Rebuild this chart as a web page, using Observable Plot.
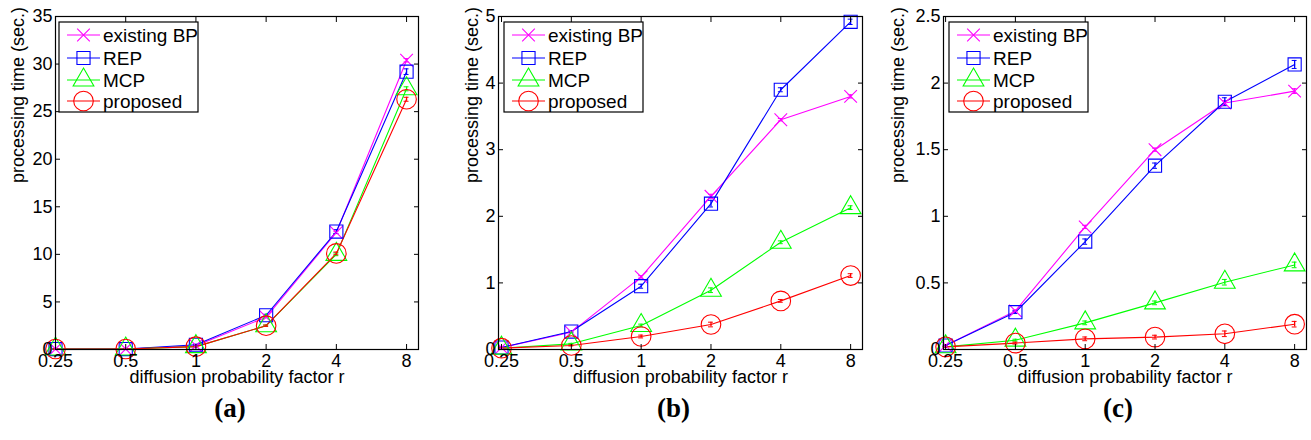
<!DOCTYPE html>
<html>
<head>
<meta charset="utf-8">
<script src="https://cdn.jsdelivr.net/npm/d3@7"></script>
<script src="https://cdn.jsdelivr.net/npm/@observablehq/plot@0.6"></script>
<style>
  html, body { margin: 0; padding: 0; background: #fff; }
  #root { position: relative; width: 1311px; height: 440px; overflow: hidden; font-family: "Liberation Sans", Arial, sans-serif; }
  .panel { position: absolute; top: 0; }
  .legend { position: absolute; }
</style>
</head>
<body>
<div id="root"></div>
<script>
// ---------------- data ----------------
const rLabels = ["0.25", "0.5", "1", "2", "4", "8"];
const seriesNames = ["existing BP", "REP", "MCP", "proposed"];
const seriesColors = ["#ff00ff", "#0000ff", "#00ff00", "#ff0000"];
const seriesSymbols = ["times", "square", "triangle", "circle"];

// panel (a)
const aBP       = [0.05, 0.05, 0.40, 3.4, 12.3, 30.4];
const aREP      = [0.05, 0.05, 0.50, 3.6, 12.4, 29.2];
const aMCP      = [0.05, 0.05, 0.30, 2.5, 10.0, 27.4];
const aProposed = [0.05, 0.05, 0.30, 2.5, 10.1, 26.3];
const aErr      = [0.02, 0.02, 0.05, 0.1, 0.2, 0.3];

// panel (b)
const bBP       = [0.03, 0.26, 1.09, 2.30, 3.45, 3.80];
const bREP      = [0.03, 0.27, 0.95, 2.19, 3.90, 4.92];
const bMCP      = [0.02, 0.085, 0.36, 0.89, 1.61, 2.13];
const bProposed = [0.02, 0.06, 0.195, 0.375, 0.73, 1.11];
const bErr      = [0.01, 0.01, 0.03, 0.05, 0.03, 0.04];

// panel (c)
const cBP       = [0.03, 0.29, 0.92, 1.50, 1.85, 1.94];
const cREP      = [0.03, 0.28, 0.81, 1.38, 1.86, 2.14];
const cMCP      = [0.02, 0.07, 0.20, 0.35, 0.505, 0.635];
const cProposed = [0.02, 0.048, 0.08, 0.093, 0.118, 0.19];
const cErr      = [0.005, 0.01, 0.02, 0.02, 0.03, 0.03];

const yTicksA = [0, 5, 10, 15, 20, 25, 30, 35];
const yTicksB = [0, 1, 2, 3, 4, 5];
const yTicksC = [0, 0.5, 1, 1.5, 2, 2.5];

const panelLabels = ["(a)", "(b)", "(c)"];
const xLabel = "diffusion probability factor r";
const yLabel = "processing time (sec.)";

// ---------------- layout ----------------
const panels = [
  {series: [aBP, aREP, aMCP, aProposed], err: aErr, yDomain: [0, 35], yTicks: yTicksA, left: 0,   width: 430, ml: 55, mr: 12, xDomain: [1, 6.17],  legendLeft: 59,  yLabelDx: -37},
  {series: [bBP, bREP, bMCP, bProposed], err: bErr, yDomain: [0, 5],  yTicks: yTicksB, left: 440, width: 430, ml: 58, mr: 8,  xDomain: [0.957, 6.17], legendLeft: 504, yLabelDx: -26},
  {series: [cBP, cREP, cMCP, cProposed], err: cErr, yDomain: [0, 2.5],yTicks: yTicksC, left: 880, width: 431, ml: 63, mr: 5,  xDomain: [0.97, 6.17],  legendLeft: 949, yLabelDx: -45}
];
const symbolR = {times: 5.8, square: 7.4, triangle: 7.7, circle: 9.8};
const root = document.getElementById("root");
const tickFont = 18;

panels.forEach((p, pi) => {
  const rows = [];
  p.series.forEach((vals, si) => {
    vals.forEach((v, i) => rows.push({series: seriesNames[si], si, idx: i + 1, v, e: p.err[i] * (si === 1 ? 1 : si === 0 ? 0.6 : 0.7)}));
  });
  const marks = [];
  // lines
  seriesNames.forEach((name, si) => {
    const d = rows.filter(r => r.si === si);
    marks.push(Plot.line(d, {x: "idx", y: "v", stroke: seriesColors[si], strokeWidth: 1.1}));
  });
  // error bars
  seriesNames.forEach((name, si) => {
    const d = rows.filter(r => r.si === si);
    marks.push(Plot.ruleX(d, {x: "idx", y1: r => r.v - r.e, y2: r => r.v + r.e, stroke: seriesColors[si], strokeWidth: 1.3}));
    marks.push(Plot.ruleY(d, {y: r => r.v - r.e, x1: r => r.idx - 0.035, x2: r => r.idx + 0.035, stroke: seriesColors[si], strokeWidth: 1}));
    marks.push(Plot.ruleY(d, {y: r => r.v + r.e, x1: r => r.idx - 0.035, x2: r => r.idx + 0.035, stroke: seriesColors[si], strokeWidth: 1}));
  });
  // markers
  seriesNames.forEach((name, si) => {
    const d = rows.filter(r => r.si === si);
    marks.push(Plot.dot(d, {x: "idx", y: "v", symbol: () => seriesSymbols[si], r: symbolR[seriesSymbols[si]], stroke: seriesColors[si], fill: "none", strokeWidth: 1.1}));
  });
  const xTicks = [1, 2, 3, 4, 5, 6];
  const fmtX = d => rLabels[d - 1];
  const fmtY = d => String(d);
  marks.push(
    // tick labels
    Plot.axisX(xTicks, {anchor: "bottom", tickSize: 0, tickPadding: 5, tickFormat: fmtX, fontSize: tickFont, label: null}),
    Plot.axisY(p.yTicks, {anchor: "left", tickSize: 0, tickPadding: 3, tickFormat: fmtY, fontSize: tickFont, label: null}),
    // inward ticks on all sides
    Plot.axisX(xTicks, {anchor: "bottom", tickSize: 5, dy: -5, text: null, label: null, strokeWidth: 1}),
    Plot.axisX(xTicks, {anchor: "top", tickSize: 5, dy: 5, text: null, label: null, strokeWidth: 1}),
    Plot.axisY(p.yTicks, {anchor: "left", tickSize: 5, dx: 5, text: null, label: null, strokeWidth: 1}),
    Plot.axisY(p.yTicks, {anchor: "right", tickSize: 5, dx: -5, text: null, label: null, strokeWidth: 1}),
    Plot.frame({stroke: "black", strokeWidth: 1.2}),
    // axis labels
    Plot.text([xLabel], {frameAnchor: "bottom", text: d => d, dy: 33, fontSize: 18, fill: "black"}),
    Plot.text([yLabel], {frameAnchor: "left", text: d => d, rotate: -90, dx: p.yLabelDx, fontSize: 18, fill: "black"}),
    Plot.text([panelLabels[pi]], {frameAnchor: "bottom", text: d => d, dy: 67, dx: -7, fontSize: 27, fontWeight: "bold", fontFamily: "Liberation Serif, Times New Roman, serif", fill: "black"})
  );
  const chart = Plot.plot({
    width: p.width,
    height: 440,
    marginLeft: p.ml,
    marginRight: p.mr,
    marginTop: 16,
    marginBottom: 91,
    style: {fontFamily: "Liberation Sans, Arial, sans-serif", background: "white", overflow: "visible"},
    x: {type: "linear", domain: p.xDomain},
    y: {type: "linear", domain: p.yDomain},
    marks
  });
  chart.classList.add("panel");
  chart.style.left = p.left + "px";
  root.appendChild(chart);

  // legend box
  const lw = 139, lh = 90;
  const lsvg = d3.select(root).append("svg")
    .attr("class", "legend")
    .attr("width", lw + 2).attr("height", lh + 2)
    .style("left", (p.legendLeft - 1) + "px").style("top", "21px");
  lsvg.append("rect").attr("x", 1).attr("y", 1).attr("width", lw).attr("height", lh)
    .attr("fill", "white").attr("stroke", "black").attr("stroke-width", 1.2);
  const rowY = [13, 36, 58, 79];
  const d3Sym = {times: d3.symbolTimes, square: d3.symbolSquare, triangle: d3.symbolTriangle, circle: d3.symbolCircle};
  seriesNames.forEach((name, si) => {
    const g = lsvg.append("g").attr("transform", `translate(1,${rowY[si] + 1})`);
    g.append("line").attr("x1", 8).attr("x2", 41).attr("y1", 0).attr("y2", 0)
      .attr("stroke", seriesColors[si]).attr("stroke-width", 1.1);
    const sym = seriesSymbols[si];
    const r = symbolR[sym];
    g.append("path").attr("transform", "translate(24.5,0)")
      .attr("d", d3.symbol(d3Sym[sym], Math.PI * r * r)())
      .attr("fill", "none").attr("stroke", seriesColors[si]).attr("stroke-width", 1.1);
    g.append("text").attr("x", 44).attr("y", 0).attr("dy", "0.35em")
      .attr("font-size", 19).attr("font-family", "Liberation Sans, Arial, sans-serif")
      .attr("fill", "black").text(name);
  });
});
</script>
</body>
</html>
